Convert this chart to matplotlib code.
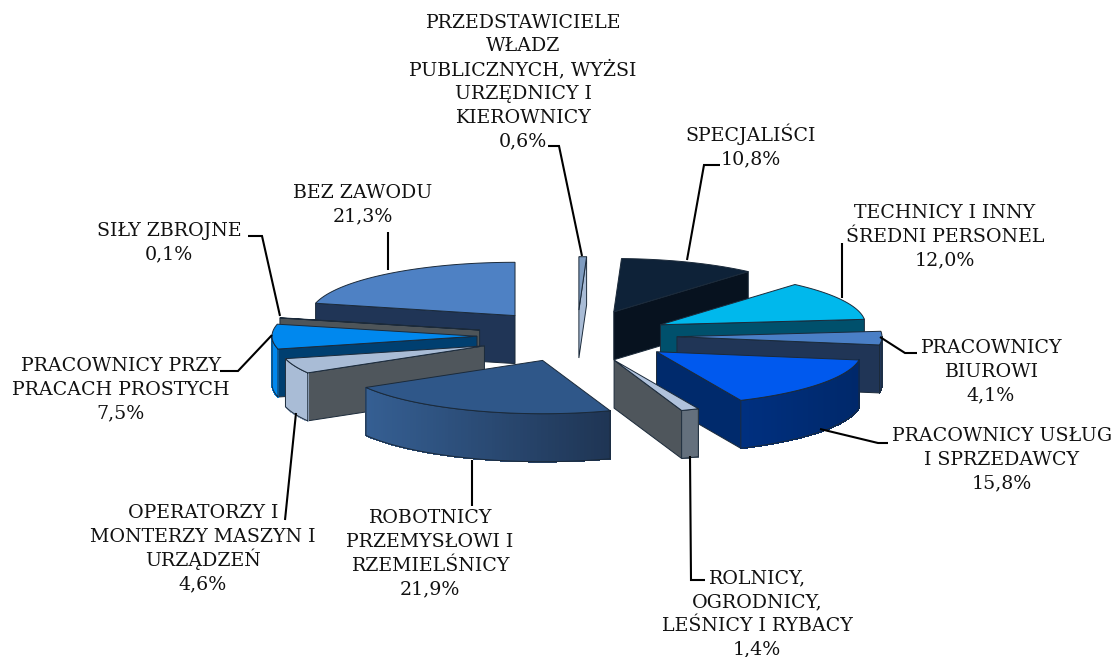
import numpy as np
import matplotlib
matplotlib.use('Agg')
import matplotlib.pyplot as plt
from matplotlib.colors import to_rgb

names = ['PRZEDSTAWICIELE\nWŁADZ\nPUBLICZNYCH, WYŻSI\nURZĘDNICY I\nKIEROWNICY',
         'SPECJALIŚCI',
         'TECHNICY I INNY\nŚREDNI PERSONEL',
         'PRACOWNICY\nBIUROWI',
         'PRACOWNICY USŁUG\nI SPRZEDAWCY',
         'ROLNICY,\nOGRODNICY,\nLEŚNICY I RYBACY',
         'ROBOTNICY\nPRZEMYSŁOWI I\nRZEMIELŚNICY',
         'OPERATORZY I\nMONTERZY MASZYN I\nURZĄDZEŃ',
         'PRACOWNICY PRZY\nPRACACH PROSTYCH',
         'SIŁY ZBROJNE',
         'BEZ ZAWODU']
values = [0.6, 10.8, 12.0, 4.1, 15.8, 1.4, 21.9, 4.6, 7.5, 0.1, 21.3]

top_colors = ['#7f9cc0', '#0e2238', '#00b8ec', '#4a7fc6', '#0059ee', '#b0c2dc',
              '#2f5789', '#a9bcd6', '#0088ee', '#4e5559', '#4e81c4']
face_colors = ['#a9bcd6', '#07121f', '#00506c', '#203556', '#002a6c', '#4f565c',
               '#1f3554', '#4f565c', '#003f70', '#4e5559', '#203556']
rim_left = ['#a9bcd6', '#07121f', '#00506c', '#203556', '#003080', '#64707d',
            '#355f93', '#a9bcd6', '#0088ee', '#4e5559', '#203556']
rim_right = ['#a9bcd6', '#07121f', '#00506c', '#203556', '#00286a', '#64707d',
             '#1f3554', '#a9bcd6', '#0088ee', '#4e5559', '#203556']

# label centres and leader lines, in pixels
label_xy = [(523, 81), (751, 147), (945, 236), (991, 371), (1002, 459),
            (757, 613), (430, 553), (203, 548), (121, 389), (169, 242), (363, 204)]
leaders = [[(548, 146), (559, 146), (582, 256)],
           [(720, 165), (704, 165), (687, 260)],
           [(842, 243), (842, 298)],
           [(880, 337), (905, 353), (917, 353)],
           [(820, 429), (878, 443), (888, 443)],
           [(690, 456), (691, 580), (705, 580)],
           [(472, 460), (472, 506)],
           [(296, 413), (285, 520)],
           [(272, 335), (238, 371), (220, 371)],
           [(280, 316), (262, 236), (248, 236)],
           [(388, 270), (388, 232)]]

cx, cy = 577, 336
radius = 205
tilt = 0.26
depth = 48
explode = [100, 100, 94, 100, 100, 100, 100, 100, 100, 100, 100]
edge = '#1b2a3a'
line_step = 23.7


def point(x0, y0, t):
    return x0 + radius * np.sin(t), y0 - radius * tilt * np.cos(t)


fig = plt.figure(figsize=(11.13, 6.57), dpi=100)
ax = fig.add_axes([0, 0, 1, 1])
ax.set_xlim(0, 1113)
ax.set_ylim(657, 0)
ax.axis('off')

edges = np.cumsum([0] + values) / sum(values) * 2 * np.pi
mids = (edges[:-1] + edges[1:]) / 2

# back to front
for i in np.argsort(-np.cos(mids)):
    t1, t2, tm = edges[i], edges[i + 1], mids[i]
    x0 = cx + explode[i] * np.sin(tm)
    y0 = cy - explode[i] * tilt * np.cos(tm)

    for t in (t1, t2):
        dx, dy = np.sin(t), -tilt * np.cos(t)
        mx, my = np.sin(tm), -tilt * np.cos(tm)
        if (dx * my - dy * mx) * dx < 0:
            px, py = point(x0, y0, t)
            ax.fill([x0, px, px, x0], [y0, py, py + depth, y0 + depth],
                    fc=face_colors[i], ec=edge, lw=0.7, zorder=2)

    a, b = max(t1, np.pi / 2), min(t2, 3 * np.pi / 2)
    if b > a:
        ts = np.linspace(a, b, 80)
        xs, ys = point(x0, y0, ts)
        c_r, c_l = np.array(to_rgb(rim_right[i])), np.array(to_rgb(rim_left[i]))
        for j in range(len(ts) - 1):
            f = (xs[j] - xs.min()) / max(xs.max() - xs.min(), 1)
            col = c_l + (c_r - c_l) * f
            ax.fill([xs[j], xs[j + 1], xs[j + 1], xs[j]],
                    [ys[j], ys[j + 1], ys[j + 1] + depth, ys[j] + depth],
                    fc=col, ec=col, lw=0.6, antialiased=False, zorder=2)
        ax.plot(np.r_[xs, xs[::-1], xs[0]],
                np.r_[ys, ys[::-1] + depth, ys[0]],
                color=edge, lw=0.7, zorder=2)

    ts = np.linspace(t1, t2, 60)
    xs, ys = point(x0, y0, ts)
    ax.fill(np.r_[x0, xs], np.r_[y0, ys], fc=top_colors[i], ec=edge, lw=0.7, zorder=2)

for line in leaders:
    xy = np.array(line)
    ax.plot(xy[:, 0], xy[:, 1], color='black', lw=1.5, zorder=3,
            solid_capstyle='butt', solid_joinstyle='miter')

# one text per line, matplotlib spaces lines unevenly around accented capitals
for name, val, (x, y) in zip(names, values, label_xy):
    rows = name.split('\n') + [f'{val:.1f}'.replace('.', ',') + '%']
    for k, row in enumerate(rows):
        ax.text(x, y + (k - (len(rows) - 1) / 2) * line_step + 6, row,
                ha='center', va='baseline', family='DejaVu Serif',
                fontsize=13.7, color='#111111', zorder=4)

fig.savefig('out.png', dpi=100)
